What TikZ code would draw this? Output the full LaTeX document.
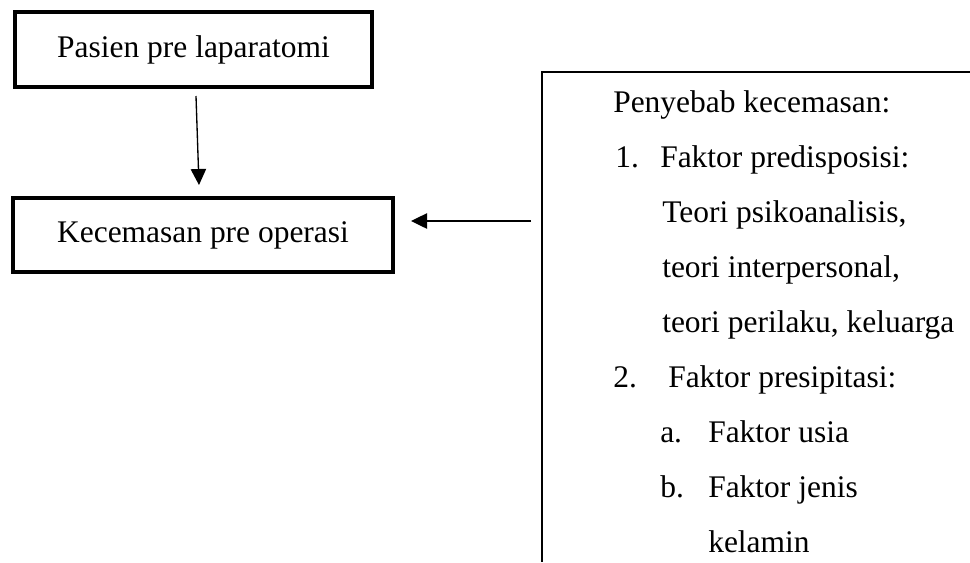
\documentclass[tikz,border=0pt]{standalone}
\usepackage{fontspec}
\setmainfont{Liberation Serif}
\usetikzlibrary{arrows.meta}
\begin{document}
\begin{tikzpicture}[x=0.75pt,y=-0.75pt,
  txt/.style={font=\fontsize{23.6}{28}\selectfont},
  thickbox/.style={draw,line width=3pt,txt,inner sep=0pt},
  item/.style={txt,anchor=base west,inner sep=0pt},
  arr/.style={line width=1pt,-{Triangle[length=12pt,width=11.5pt]}}]
\useasboundingbox (0,0) rectangle (970,562);
\node[thickbox,minimum width=267.75pt,minimum height=56.25pt] (b1) at (193.5,49.5) {Pasien pre laparatomi};
\node[thickbox,minimum width=285pt,minimum height=55.5pt] (b2) at (203,235) {Kecemasan pre operasi};
\coordinate (rtop) at (970,72);
\coordinate (rcorner) at (542,72);
\coordinate (rbot) at (542,562);
\coordinate (rmid) at (542,221);
\draw[line width=1.5pt] (rtop) -- (rcorner) -- (rbot);
\draw[arr] ([shift={(2.5,7)}]b1.south) -- ([shift={(-4,-11)}]b2.north);
\draw[arr] ([xshift=-8.25pt]rmid) -- ([shift={(16,-14)}]b2.east);
\node[item] (t0) at (613,112) {Penyebab kecemasan:};
\node[item] (n1) at (615,167) {1.};
\node[item] (t1) at (660,167) {Faktor predisposisi:};
\node[item] (t2) at (662,222) {Teori psikoanalisis,};
\node[item] (t3) at (662,277) {teori interpersonal,};
\node[item] (t4) at (662,332) {teori perilaku, keluarga};
\node[item] (n2) at (613,387) {2.};
\node[item] (t5) at (668,387) {Faktor presipitasi:};
\node[item] (na) at (660,442) {a.};
\node[item] (t6) at (708,442) {Faktor usia};
\node[item] (nb) at (660,497) {b.};
\node[item] (t7) at (708,497) {Faktor jenis};
\node[item] (t8) at (708,552) {kelamin};
\end{tikzpicture}
\end{document}
